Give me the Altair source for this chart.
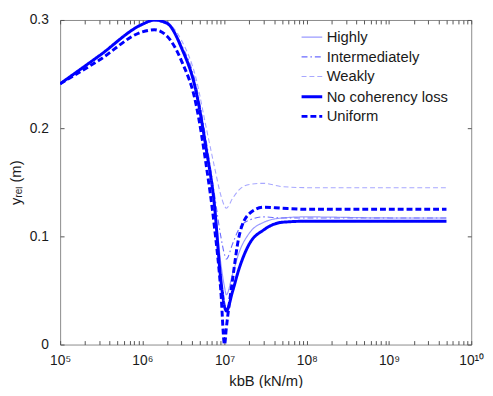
import altair as alt
import pandas as pd

k_values = [1e5, 3e5, 1e6, 1.4e6, 2e6, 3e6, 4.5e6, 6e6, 7.5e6, 9e6, 1e7, 1.05e7,
            1.25e7, 1.5e7, 2e7, 3e7, 5e7, 1e8, 1e9, 5e9]

highly = [0.241, 0.267, 0.296, 0.299, 0.296, 0.276, 0.237, 0.184, 0.135, 0.075,
          0.053, 0.046, 0.065, 0.085, 0.103, 0.113, 0.117, 0.118, 0.117, 0.117]
intermediately = [0.241, 0.267, 0.296, 0.299, 0.296, 0.277, 0.240, 0.188, 0.140, 0.100,
                  0.083, 0.079, 0.093, 0.107, 0.115, 0.118, 0.117, 0.117, 0.117, 0.117]
weakly = [0.241, 0.267, 0.296, 0.299, 0.297, 0.281, 0.246, 0.200, 0.165, 0.138,
          0.128, 0.126, 0.135, 0.143, 0.148, 0.149, 0.146, 0.145, 0.145, 0.145]
no_loss = [0.241, 0.267, 0.296, 0.300, 0.297, 0.274, 0.234, 0.180, 0.130, 0.060,
           0.035, 0.031, 0.049, 0.070, 0.093, 0.106, 0.113, 0.114, 0.114, 0.114]
uniform = [0.241, 0.263, 0.289, 0.291, 0.285, 0.262, 0.222, 0.165, 0.110, 0.050,
           0.000, 0.015, 0.060, 0.100, 0.121, 0.127, 0.126, 0.125, 0.125, 0.125]

series_names = ["Highly", "Intermediately", "Weakly", "No coherency loss", "Uniform"]
series_values = [highly, intermediately, weakly, no_loss, uniform]
colors = ["#9a9aff", "#6a6aff", "#a8a8ff", "#0000ff", "#0000ff"]
dashes = [[1, 0], [6, 3, 1.5, 3], [5, 3], [1, 0], [6, 3]]
widths = [1.2, 1.1, 1.1, 3, 3]

x_ticks = [m * 10 ** e for e in range(5, 10) for m in range(1, 10)] + [1e10]
y_ticks = [0, 0.1, 0.2, 0.3]

rows = []
for name, vals in zip(series_names, series_values):
    for k, v in zip(k_values, vals):
        rows.append({"k": k, "y": v, "series": name})
df = pd.DataFrame(rows)

sup = "['⁰','¹','²','³','⁴','⁵','⁶','⁷','⁸','⁹']"
x_label = ("abs(log(datum.value)/LN10 - round(log(datum.value)/LN10)) < 0.001 ? "
           "'10' + (round(log(datum.value)/LN10) >= 10 ? '¹⁰' : " + sup +
           "[round(log(datum.value)/LN10)]) : ''")

xscale = alt.Scale(type="log", domain=[1e5, 1e10], nice=False)
yscale = alt.Scale(domain=[0, 0.3], nice=False, zero=False)
legend = alt.Legend(title=None)

lines = alt.Chart(df).mark_line(clip=True, interpolate="monotone").encode(
    x=alt.X("k:Q", scale=xscale,
            axis=alt.Axis(values=x_ticks, labelExpr=x_label, title="kbB (kN/m)",
                          offset=-4, tickSize=4, labelPadding=9, titlePadding=7,
                          labelFlush=False, labelOverlap=False)),
    y=alt.Y("y:Q", scale=yscale,
            axis=alt.Axis(values=y_ticks, title="yᵣₑₗ (m)",
                          labelExpr="datum.value == 0 ? '0' : format(datum.value, '.1f')",
                          offset=-4, tickSize=4, labelPadding=12, titlePadding=6)),
    color=alt.Color("series:N", scale=alt.Scale(domain=series_names, range=colors), legend=legend),
    strokeDash=alt.StrokeDash("series:N", scale=alt.Scale(domain=series_names, range=dashes), legend=legend),
    strokeWidth=alt.StrokeWidth("series:N",
                                scale=alt.Scale(type="ordinal", domain=series_names, range=widths),
                                legend=legend),
)

mirror = alt.Chart(df).mark_point(opacity=0).encode(
    x=alt.X("k:Q", scale=xscale,
            axis=alt.Axis(orient="top", values=x_ticks, labels=False, title=None,
                          offset=-4, tickSize=4)),
    y=alt.Y("y:Q", scale=yscale,
            axis=alt.Axis(orient="right", values=y_ticks, labels=False, title=None,
                          offset=-4, tickSize=4)),
)

chart = alt.layer(lines, mirror).resolve_axis(x="independent", y="independent").properties(
    width=418, height=330,
    autosize=alt.AutoSizeParams(type="none"),
    padding={"left": 53, "top": 9, "right": 14, "bottom": 41},
).configure_view(
    stroke="#8a8a8a", strokeWidth=1
).configure_axis(
    domain=False, grid=False, tickColor="#555555", tickWidth=1,
    labelFont="Liberation Sans", titleFont="Liberation Sans",
    labelFontSize=14, titleFontSize=15, labelColor="#1a1a1a", titleColor="#1a1a1a",
    titleFontWeight="normal"
).configure_legend(
    orient="none", legendX=244, legendY=6, padding=0,
    symbolType="stroke", symbolSize=441, rowPadding=0, labelOffset=3,
    labelFont="Liberation Sans", labelFontSize=15, labelColor="#1a1a1a",
    labelLimit=300
)

chart.save("out.html", embed_options={"renderer": "svg", "actions": False})
